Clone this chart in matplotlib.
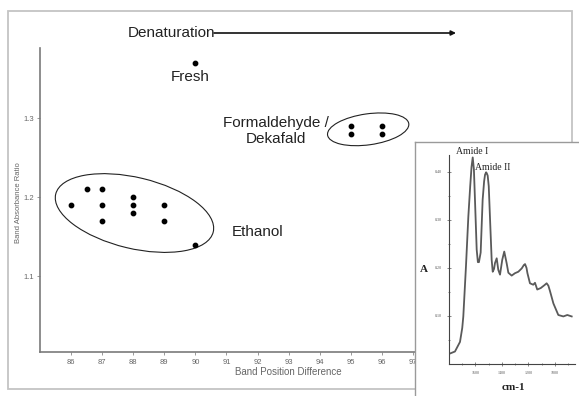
import matplotlib
matplotlib.use("Agg")
import matplotlib.pyplot as plt
from matplotlib.patches import Ellipse, Rectangle
from matplotlib.transforms import ScaledTranslation

plt.rcParams['font.family'] = ['Liberation Sans', 'DejaVu Sans']

# band position difference / band absorbance ratio per sample group
fresh_x = [90]
fresh_y = [1.37]
ethanol_x = [86, 86.5, 87, 87, 87, 88, 88, 88, 89, 89, 90]
ethanol_y = [1.19, 1.21, 1.21, 1.19, 1.17, 1.20, 1.19, 1.18, 1.19, 1.17, 1.14]
formal_x = [95, 95, 96, 96]
formal_y = [1.29, 1.28, 1.29, 1.28]

x_ticks = [86, 87, 88, 89, 90, 91, 92, 93, 94, 95, 96, 97]
y_ticks = [1.1, 1.2, 1.3]

# FTIR spectrum for the inset (wavenumber, absorbance)
wavenumber = [1800, 1755, 1717, 1700, 1692, 1672, 1654, 1640, 1630, 1621, 1612, 1604,
              1591, 1582, 1574, 1561, 1546, 1535, 1528, 1520, 1515, 1508, 1500, 1491,
              1478, 1470, 1460, 1453, 1440, 1428, 1415, 1398, 1383, 1365, 1352, 1327,
              1302, 1277, 1251, 1235, 1226, 1215, 1208, 1189, 1164, 1151, 1134, 1108,
              1080, 1063, 1050, 1038, 1012, 975, 937, 907, 874]
absorbance = [0.021, 0.026, 0.046, 0.075, 0.099, 0.203, 0.307, 0.370, 0.410, 0.430, 0.405, 0.342,
              0.238, 0.212, 0.212, 0.232, 0.342, 0.380, 0.394, 0.399, 0.397, 0.392, 0.370, 0.307,
              0.217, 0.192, 0.198, 0.210, 0.220, 0.196, 0.186, 0.217, 0.234, 0.210, 0.190, 0.184,
              0.189, 0.192, 0.199, 0.206, 0.208, 0.200, 0.189, 0.168, 0.165, 0.169, 0.155, 0.158,
              0.164, 0.168, 0.163, 0.152, 0.126, 0.102, 0.099, 0.102, 0.099]
spec_xticks = [1600, 1400, 1200, 1000]
spec_yticks = [0.10, 0.20, 0.30, 0.40]

W, H = 579, 396
fig = plt.figure(figsize=(W / 100, H / 100), dpi=100)

def fx(px):
    return px / W

def fy(py):
    return 1 - py / H

# light grey border round the whole slide
fig.patches.append(Rectangle((fx(8), fy(389)), fx(572) - fx(8), fy(11) - fy(389),
                             transform=fig.transFigure, fill=False,
                             edgecolor='#c4c4c4', lw=1.3, zorder=-1))

ax = fig.add_axes([fx(40), fy(352), fx(444) - fx(40), fy(48) - fy(352)])
ax.set_facecolor('none')
ax.scatter(fresh_x, fresh_y, s=10, color='k', zorder=3)
ax.scatter(ethanol_x, ethanol_y, s=10, color='k', zorder=3)
ax.scatter(formal_x, formal_y, s=10, color='k', zorder=3)
ax.set_xlim(85, 98)
ax.set_ylim(1.004, 1.389)
ax.set_xticks(x_ticks)
ax.set_yticks(y_ticks)
ax.set_yticklabels([f"{v:.1f}" for v in y_ticks])
for s in ['top', 'right']:
    ax.spines[s].set_visible(False)
for s in ['left', 'bottom']:
    ax.spines[s].set_color('#7a7a7a')
    ax.spines[s].set_linewidth(1.2)
ax.tick_params(length=2, width=0.6, colors='#888888', labelsize=5.5, pad=2,
               labelcolor='#666666')
ax.tick_params(axis='x', pad=3)

# group outlines, sized in inches around a data point
def group_ellipse(cx, cy, w, h, angle):
    tr = fig.dpi_scale_trans + ScaledTranslation(cx, cy, ax.transData)
    e = Ellipse((0, 0), w, h, angle=angle, transform=tr, fill=False,
                edgecolor='#222222', lw=0.8)
    ax.add_artist(e)

group_ellipse(88.04, 1.18, 1.62, 0.71, -13.5)
group_ellipse(95.56, 1.286, 0.82, 0.31, 8)

ax.text(89.82, 1.352, 'Fresh', ha='center', va='center', fontsize=11, color='#222222')
ax.text(92.0, 1.156, 'Ethanol', ha='center', va='center', fontsize=11, color='#222222')
ax.text(92.6, 1.284, 'Formaldehyde /\nDekafald', ha='center', va='center',
        fontsize=11, color='#222222', linespacing=1.15)

fig.text(fx(288), fy(372), 'Band Position Difference', ha='center', va='center',
         fontsize=7, color='#666666')
fig.text(fx(19), fy(203), 'Band Absorbance Ratio', ha='center', va='center',
         rotation=90, fontsize=5.5, color='#666666')

fig.text(fx(128), fy(33), 'Denaturation', ha='left', va='center', fontsize=11,
         color='#222222')
ax.annotate('', xy=(fx(456), fy(33)), xytext=(fx(214), fy(33)),
            xycoords='figure fraction', textcoords='figure fraction',
            arrowprops=dict(arrowstyle='-|>', lw=1.2, color='#111111',
                            mutation_scale=7, shrinkA=0, shrinkB=0))

# inset with the FTIR spectrum
box = fig.add_axes([fx(415), fy(410), fx(600) - fx(415), fy(142) - fy(410)])
box.set_xticks([])
box.set_yticks([])
box.set_facecolor('white')
for s in box.spines.values():
    s.set_color('#9a9a9a')
    s.set_linewidth(1.0)

ins = fig.add_axes([fx(449), fy(364), fx(575) - fx(449), fy(155) - fy(364)])
ins.set_facecolor('none')
ins.plot(wavenumber, absorbance, color='#5a5a5a', lw=1.3, solid_joinstyle='round')
ins.set_xlim(1800, 849)
ins.set_ylim(0, 0.435)
ins.set_xticks(spec_xticks)
ins.set_yticks(spec_yticks)
ins.set_yticks([0.05, 0.15, 0.25, 0.35], minor=True)
ins.set_xticks([1700, 1500, 1300, 1100, 900], minor=True)
ins.set_xticklabels([str(v) for v in spec_xticks])
ins.set_yticklabels([f"{v:.2f}" for v in spec_yticks])
for s in ['top', 'right']:
    ins.spines[s].set_visible(False)
for s in ['left', 'bottom']:
    ins.spines[s].set_color('#444444')
    ins.spines[s].set_linewidth(0.8)
ins.tick_params(which='both', direction='inout', length=2.5, width=0.5,
                colors='#555555', labelsize=3, pad=4)
ins.tick_params(which='minor', length=1.5)
for lab in ins.get_xticklabels() + ins.get_yticklabels():
    lab.set_family('Liberation Serif')

serif = ['Liberation Serif', 'DejaVu Serif']
fig.text(fx(472), fy(152), 'Amide I', ha='center', va='center', fontsize=7,
         family=serif, color='#222222')
fig.text(fx(493), fy(167), 'Amide II', ha='center', va='center', fontsize=7,
         family=serif, color='#222222')
fig.text(fx(424), fy(269), 'A', ha='center', va='center', fontsize=8,
         family=serif, weight='bold', color='#222222')
fig.text(fx(513), fy(387), 'cm-1', ha='center', va='center', fontsize=8,
         family=serif, weight='bold', color='#222222')

fig.savefig('out.png', dpi=100, facecolor='white')
